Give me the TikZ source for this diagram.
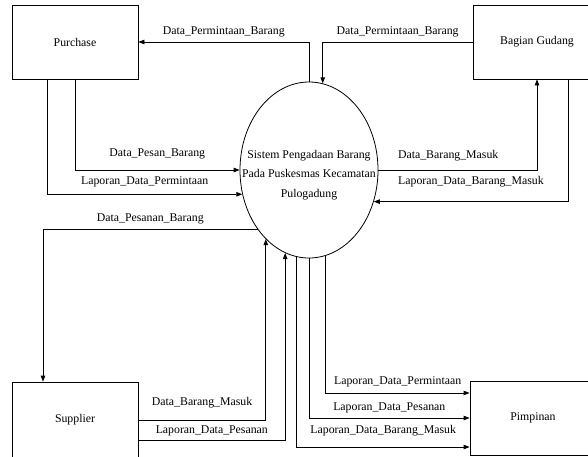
\documentclass[tikz,border=0pt]{standalone}
\usepackage{fontspec}
\setmainfont{Liberation Serif}
\usetikzlibrary{shapes.geometric,arrows.meta}
\begin{document}
\begin{tikzpicture}[x=1pt,y=-1pt,font=\fontsize{11.8}{19.5}\selectfont,
  entity/.style={draw,line width=0.8pt,minimum width=126pt,minimum height=74pt,inner sep=0pt},
  flow/.style={line width=0.8pt,-{Triangle[length=6pt,width=4.5pt]}},
  lbl/.style={above=3pt,inner sep=2pt}]
\useasboundingbox (0,0) rectangle (588,456);
\clip (0,0) rectangle (588,456);

\node[entity] (purchase) at (75,42) {Purchase};
\node[entity,minimum width=128pt] (gudang) at (537,42) {Bagian Gudang};
\node[entity,minimum height=76pt] (supplier) at (75,420) {Supplier};
\node[entity] (pimpinan) at (533,418) {Pimpinan};
\node[draw,ellipse,line width=0.8pt,minimum width=138pt,minimum height=176pt,inner sep=0pt] (sys) at (309,170) {};
\node[align=center] (systext) at (309,175) {Sistem Pengadaan Barang\\Pada Puskesmas Kecamatan\\Pulogadung};

\draw[flow] (sys.north) |- node[lbl,pos=0.75] (l1) {Data\_Permintaan\_Barang} (purchase.east);
\draw[flow] (gudang.west) -| node[lbl,pos=0.25] (l2) {Data\_Permintaan\_Barang} (sys.81);
\draw[flow] (purchase.south) |- node[lbl,above=6pt,pos=0.75] (l3) {Data\_Pesan\_Barang} (sys.west);
\draw[flow] ([xshift=-28pt]purchase.south) |- node[lbl,above=2pt,pos=0.75] (l4) {Laporan\_Data\_Permintaan} (sys.200);
\draw[flow] (sys.229) -| node[lbl,pos=0.25] (l5) {Data\_Pesanan\_Barang} ([xshift=-32pt]supplier.north);
\draw[flow] (supplier.east) -| node[lbl,above=7pt,pos=0.25] (l6) {Data\_Barang\_Masuk} (sys.238);
\draw[flow] ([yshift=-20pt]supplier.east) -| node[lbl,above=-1pt,pos=0.25] (l7) {Laporan\_Data\_Pesanan} (sys.254);
\draw[flow] (sys.281) |- node[lbl,above=1pt,pos=0.75] (l8) {Laporan\_Data\_Permintaan} ([yshift=25pt]pimpinan.west);
\draw[flow] (sys.south) |- node[lbl,pos=0.75] (l9) {Laporan\_Data\_Pesanan} (pimpinan.west);
\draw[flow] (sys.262) |- node[lbl,above=6pt,pos=0.75] (l10) {Laporan\_Data\_Barang\_Masuk} ([yshift=-29pt]pimpinan.west);
\draw[flow] (sys.east) -| node[lbl,above=4pt,pos=0.22] (l11) {Data\_Barang\_Masuk} (gudang.south);
\draw[flow] ([xshift=31pt]gudang.south) |- node[lbl,above=9pt,pos=0.75] (l12) {Laporan\_Data\_Barang\_Masuk} (sys.334);
\end{tikzpicture}
\end{document}
